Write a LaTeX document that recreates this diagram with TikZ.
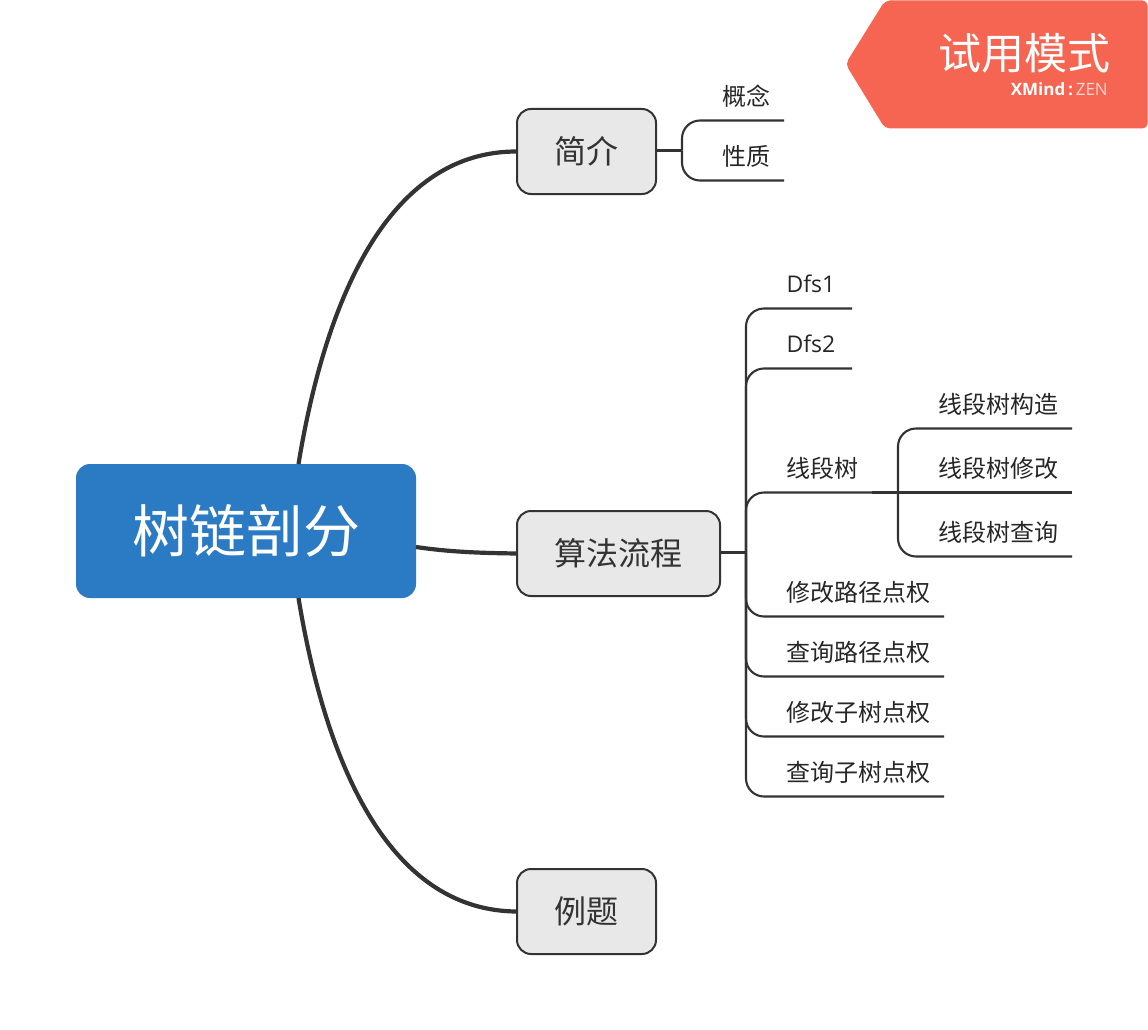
\documentclass[tikz,border=0pt]{standalone}
\usepackage{fontspec}
\setmainfont{Noto Sans CJK SC}
\newfontfamily\latinfont{Open Sans}
\definecolor{rootblue}{HTML}{2B7BC4}
\definecolor{topicgray}{HTML}{E8E8E8}
\definecolor{inkgray}{HTML}{333333}
\definecolor{badgered}{HTML}{F56552}
\begin{document}
\begin{tikzpicture}[
  x=1pt, y=-1pt,
  treeroot/.style = {fill=rootblue, text=white, rounded corners=14pt, minimum width=340pt, minimum height=134pt, inner sep=0pt, outer sep=0pt, font=\fontsize{57}{60}\selectfont},
  treetopic/.style = {draw=inkgray, line width=2pt, fill=topicgray, text=inkgray, rounded corners=14pt, minimum height=85pt, inner sep=0pt, outer sep=0pt, font=\fontsize{32}{36}\selectfont},
  treeleaf/.style = {text=black!85, minimum height=49pt, inner sep=0pt, outer sep=0pt, font=\fontsize{24}{28}\selectfont},
  maincurve/.style = {line width=4.2pt, draw=inkgray},
  forkline/.style = {line width=2.1pt, draw=inkgray, rounded corners=18pt}
]
  \useasboundingbox (0,0) rectangle (1148,1030);
  % badge
  \fill[badgered, rounded corners=5pt] (845.5,64) -- (885,0.5) -- (1147.5,0.5) -- (1147.5,128.5) -- (885,128.5) -- cycle;
  \node[text=white, inner sep=0pt, font=\fontsize{43}{46}\selectfont] (badgetitle) at (1024,53) {试用模式};
  \node[text=white, inner sep=0pt, anchor=east, font=\fontsize{17}{20}\selectfont\latinfont] (badgebrand) at (1108,89) {\textbf{XMind\,:\,}\textcolor{white!75!badgered}{ZEN}};
  % main topics
  \node[treeroot] (root) at (246,531) {树链剖分};
  \node[treetopic, minimum width=139pt] (intro) at (586.5,151.5) {简介};
  \node[treetopic, minimum width=203pt] (algo) at (618.5,553.5) {算法流程};
  \node[treetopic, minimum width=139pt] (examples) at (586.5,911.5) {例题};
  % curves out of the root
  \coordinate (roottop) at (298.5,464);
  \coordinate (rootside) at (416,547);
  \coordinate (rootbottom) at (298.5,598);
  \draw[maincurve] (roottop) .. controls (328,285) and (395,151) .. (intro.west);
  \draw[maincurve] (rootside) .. controls (450,552) and (480,553) .. (algo.west);
  \draw[maincurve] (rootbottom) .. controls (328,777) and (395,911) .. (examples.west);
  % intro branch
  \coordinate (introfork) at (682,150.5);
  \node[treeleaf, minimum width=76pt] (concept) at (746,96) {概念};
  \node[treeleaf, minimum width=76pt] (property) at (746,156) {性质};
  \draw[forkline] (intro.east |- introfork) -- (introfork);
  \foreach \leaf in {concept, property}
    \draw[forkline] (introfork) |- (\leaf.south east);
  % algorithm branch
  \coordinate (algofork) at (746,552.5);
  \node[treeleaf, minimum width=82pt, font=\fontsize{23}{28}\selectfont\latinfont] (dfsone) at (811,284) {Dfs1};
  \node[treeleaf, minimum width=82pt, font=\fontsize{23}{28}\selectfont\latinfont] (dfstwo) at (811,344) {Dfs2};
  \node[treeleaf, minimum width=100pt] (segtree) at (822,468) {线段树};
  \node[treeleaf, minimum width=172pt] (pathedit) at (858,592) {修改路径点权};
  \node[treeleaf, minimum width=172pt] (pathquery) at (858,652) {查询路径点权};
  \node[treeleaf, minimum width=172pt] (subedit) at (858,712) {修改子树点权};
  \node[treeleaf, minimum width=172pt] (subquery) at (858,772) {查询子树点权};
  \draw[forkline] (algo.east |- algofork) -- (algofork);
  \foreach \leaf in {dfsone, dfstwo, segtree, pathedit, pathquery, subedit, subquery}
    \draw[forkline] (algofork) |- (\leaf.south east);
  % segment tree branch
  \node[treeleaf, minimum width=148pt] (segbuild) at (998,404) {线段树构造};
  \node[treeleaf, minimum width=148pt] (segedit) at (998,468) {线段树修改};
  \node[treeleaf, minimum width=148pt] (segquery) at (998,532) {线段树查询};
  \coordinate (segfork) at (898,492.5);
  \draw[forkline] (segtree.south east) -- (segedit.south east);
  \foreach \leaf in {segbuild, segquery}
    \draw[forkline] (segfork) |- (\leaf.south east);
\end{tikzpicture}
\end{document}
